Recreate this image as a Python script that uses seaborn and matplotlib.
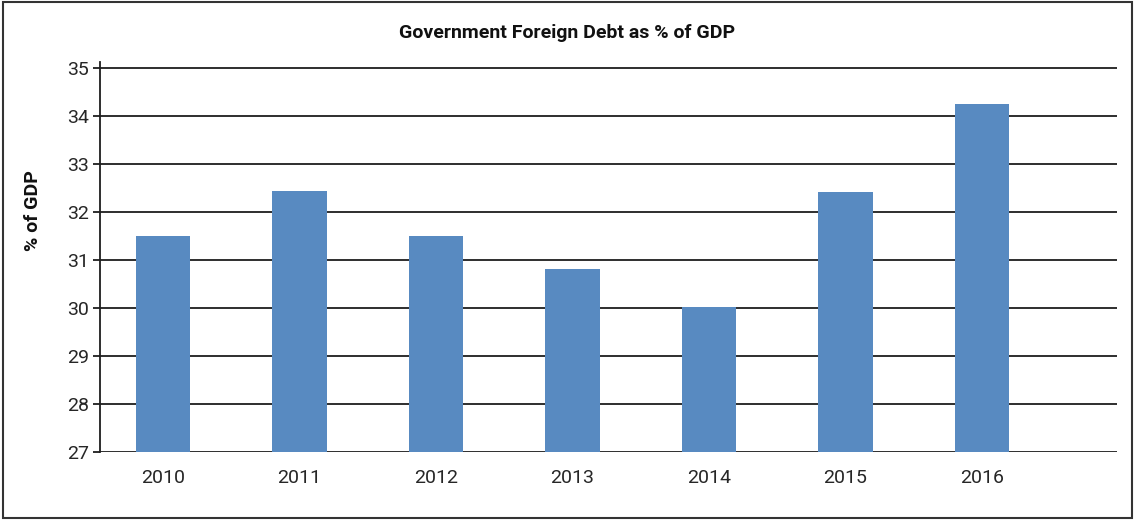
import matplotlib
matplotlib.use("Agg")
import matplotlib.pyplot as plt
from matplotlib.patches import Rectangle
import seaborn as sns
import pandas as pd

# Government foreign debt, % of GDP
years = ["2010", "2011", "2012", "2013", "2014", "2015", "2016"]
debt_pct = [31.5, 32.44, 31.5, 30.81, 30.02, 32.42, 34.25]
y_ticks = [27, 28, 29, 30, 31, 32, 33, 34, 35]

df = pd.DataFrame({"year": years, "debt": debt_pct})

sns.set_theme(style="white")
plt.rcParams["font.family"] = ["Roboto", "DejaVu Sans"]

W, H = 1134, 520
fig = plt.figure(figsize=(W / 100, H / 100), dpi=100)
ax = fig.add_axes([100 / W, (H - 452) / H, 1017 / W, (452 - 62) / H])

sns.barplot(data=df, x="year", y="debt", color="#588AC1", saturation=1,
            width=0.4, linewidth=0, edgecolor="none", ax=ax, zorder=3)

# horizontal grid lines behind the bars
for t in y_ticks:
    ax.axhline(t, color="#1e1e1e", lw=1.3, zorder=1)

ax.set_ylim(27, 35.125)
ax.set_xlim(-0.4615, 6.99)
ax.set_yticks(y_ticks)
ax.set_xlabel("")
ax.set_ylabel("")

for side in ["top", "right", "bottom"]:
    ax.spines[side].set_visible(False)
ax.spines["left"].set_color("#1e1e1e")
ax.spines["left"].set_linewidth(1.3)

ax.tick_params(axis="y", which="major", length=5, width=1.3, color="#1e1e1e",
               labelsize=14, labelcolor="#262626", pad=3, left=True)
ax.tick_params(axis="x", length=0, labelsize=14, labelcolor="#262626", pad=12)

fig.text(567 / W, 1 - 33 / H, "Government Foreign Debt as % of GDP",
         ha="center", va="center", fontsize=14, fontweight="bold",
         color="#111111")
fig.text(33 / W, 1 - 211 / H, "% of GDP", rotation=90, ha="center",
         va="center", fontsize=14, fontweight="bold", color="#111111")

# outer frame
fig.patches.append(Rectangle((3 / W, 2 / H), 1 - 5 / W, 1 - 4 / H,
                             transform=fig.transFigure, fill=False,
                             edgecolor="#333333", lw=1.5))

fig.savefig("out.png", dpi=100)
